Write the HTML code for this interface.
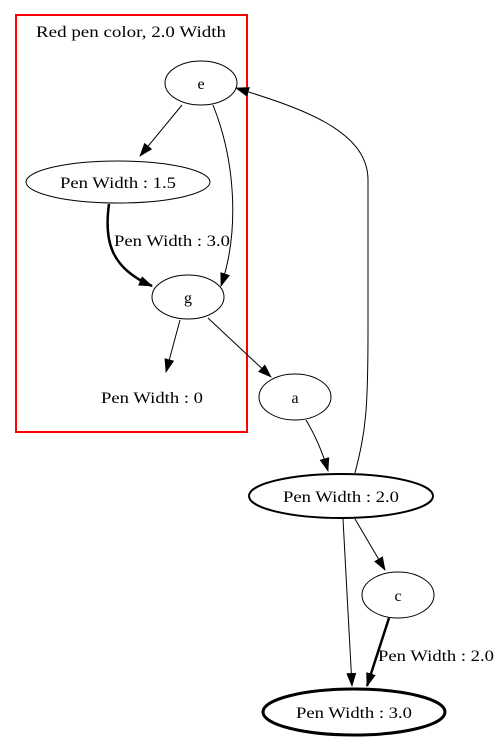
<!DOCTYPE html>
<html><head><style>html,body{margin:0;padding:0;background:#fff}svg{display:block}</style></head>
<body>
<svg width="499" height="752" xmlns="http://www.w3.org/2000/svg" font-family="'Liberation Serif', serif" font-size="16">
<defs>
<marker id="ar" markerWidth="14" markerHeight="10" refX="13" refY="5" orient="auto" markerUnits="userSpaceOnUse"><path d="M0,0 L14,5 L0,10 z" fill="#000"/></marker>
</defs>
<rect x="16" y="15" width="231" height="417" fill="none" stroke="#f00" stroke-width="2"/>
<text x="131" y="37" text-anchor="middle" textLength="190" lengthAdjust="spacingAndGlyphs">Red pen color, 2.0 Width</text>
<g fill="none" stroke="#000">
<ellipse cx="201" cy="83" rx="36" ry="22"/>
<ellipse cx="118" cy="182" rx="92" ry="21"/>
<ellipse cx="188" cy="297" rx="36" ry="22"/>
<ellipse cx="295" cy="397" rx="36" ry="23"/>
<ellipse cx="341" cy="496" rx="92" ry="22" stroke-width="2"/>
<ellipse cx="398" cy="595" rx="36" ry="23"/>
<ellipse cx="354" cy="712" rx="91" ry="23" stroke-width="3"/>
<path d="M182,105 L140,156" marker-end="url(#ar)"/>
<path d="M213,105 C235,160 240,230 221,286" marker-end="url(#ar)"/>
<path d="M109,204 C104,240 110,268 152,286" stroke-width="2.5" marker-end="url(#ar)"/>
<path d="M180,320 L166,372" marker-end="url(#ar)"/>
<path d="M208,318 L271,377" marker-end="url(#ar)"/>
<path d="M306,420 C315,435 322,450 328,471" marker-end="url(#ar)"/>
<path d="M355,473 C366,430 368,410 368,330 L368,180 C368,130 300,108 236,88" marker-end="url(#ar)"/>
<path d="M355,519 L385,570" marker-end="url(#ar)"/>
<path d="M343,519 L352,686" marker-end="url(#ar)"/>
<path d="M389,618 L367,686" stroke-width="2.5" marker-end="url(#ar)"/>
</g>
<g text-anchor="middle" lengthAdjust="spacingAndGlyphs">
<text x="201" y="89">e</text>
<text x="118" y="188" textLength="116" lengthAdjust="spacingAndGlyphs">Pen Width : 1.5</text>
<text x="188" y="303">g</text>
<text x="152" y="403" textLength="102" lengthAdjust="spacingAndGlyphs">Pen Width : 0</text>
<text x="295" y="403">a</text>
<text x="341" y="502" textLength="116" lengthAdjust="spacingAndGlyphs">Pen Width : 2.0</text>
<text x="398" y="601">c</text>
<text x="354" y="718" textLength="116" lengthAdjust="spacingAndGlyphs">Pen Width : 3.0</text>
<text x="172" y="246" textLength="116" lengthAdjust="spacingAndGlyphs">Pen Width : 3.0</text>
<text x="436" y="661" textLength="116" lengthAdjust="spacingAndGlyphs">Pen Width : 2.0</text>
</g>
</svg>
</body></html>
